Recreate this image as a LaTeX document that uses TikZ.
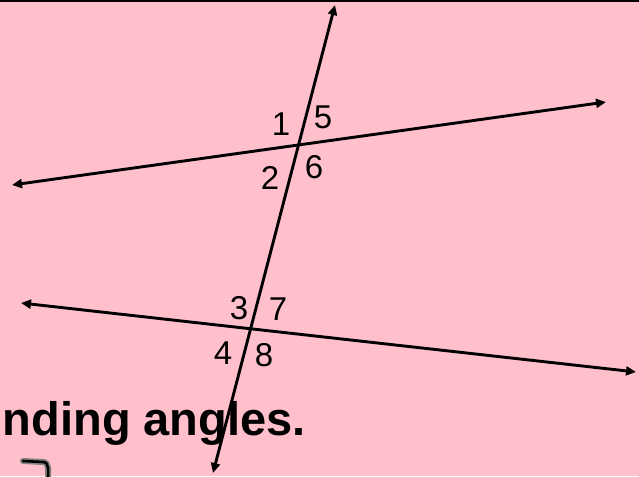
\documentclass[tikz,border=0pt]{standalone}
\usepackage{fontspec}
\setmainfont{Liberation Sans}
\usetikzlibrary{arrows.meta}
\definecolor{bgpink}{RGB}{255,192,203}
\tikzset{
  ray/.style={
    line width=2.9pt,
    {Triangle[length=10pt,width=9pt]}-{Triangle[length=10pt,width=9pt]}
  },
  angnum/.style={
    inner sep=0pt,
    font=\fontsize{33}{39}\selectfont
  },
  caption/.style={
    inner sep=0pt,
    font=\fontsize{47}{56}\selectfont\bfseries
  }
}
\begin{document}
\begin{tikzpicture}[x=1pt,y=-1pt]
            \fill[bgpink] (0,0) rectangle (639,476);
            \useasboundingbox (0,0) rectangle (639,476);
            \fill[black] (0,0) rectangle (639,2.5);
            % end points of the lines
            \coordinate (p1) at (12,185);
            \coordinate (q1) at (606,102);
            \coordinate (p2) at (21,303);
            \coordinate (q2) at (636,372);
            \coordinate (t1) at (335,5);
            \coordinate (t2) at (213,473);
            \draw[ray] (p1)--(q1);
            \draw[ray] (p2)--(q2);
            \draw[ray] (t2)--(t1);
            % angle numbers
            \node[angnum] (n1) at (281,124) {1};
            \node[angnum] (n5) at (323,117) {5};
            \node[angnum] (n2) at (270,178) {2};
            \node[angnum] (n6) at (314,167) {6};
            \node[angnum] (n3) at (239,308) {3};
            \node[angnum] (n7) at (278,309) {7};
            \node[angnum] (n4) at (223,353) {4};
            \node[angnum] (n8) at (264,355) {8};
            \node[caption,anchor=base east] (cap) at (306,435) {nding angles.};
            \draw[gray,line width=6pt,line cap=round] (23,461)--(43,462) to[out=0,in=90] (48,478);
            \draw[black,line width=2.6pt,line cap=round] (23,461)--(43,462) to[out=0,in=90] (48,478);
        \end{tikzpicture}
\end{document}
